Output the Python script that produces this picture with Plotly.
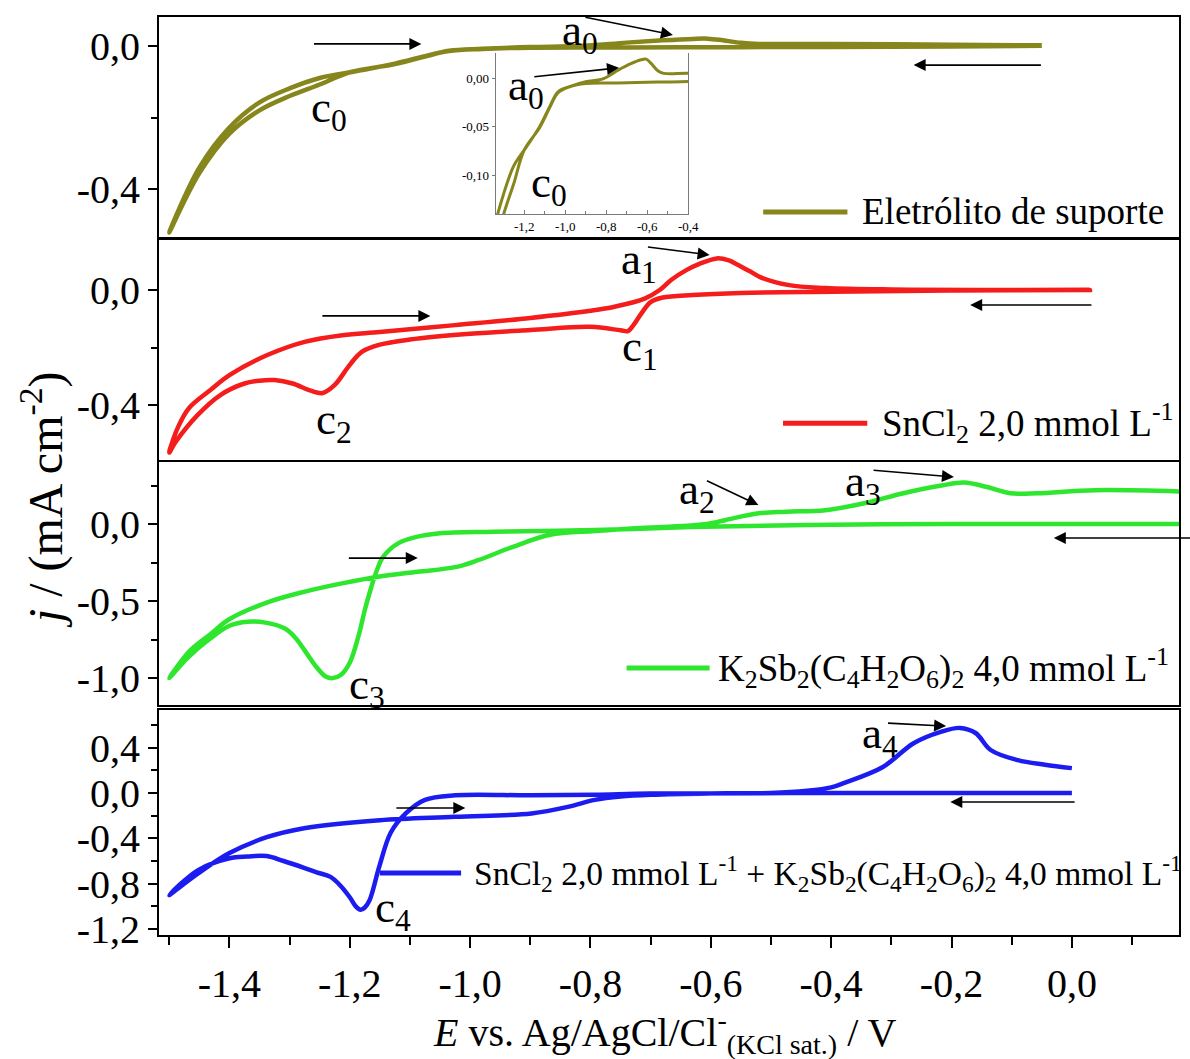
import plotly.graph_objects as go

# ---------------- data: cyclic voltammograms (E in V, j in mA cm-2) ----------------
# supporting electrolyte: cathodic sweep (right -> left) then anodic sweep (left -> right)
E_sup_cat = [-0.05, -0.2, -0.4, -0.55, -0.74, -0.9, -0.98, -1.035, -1.075, -1.125, -1.2,
             -1.25, -1.3, -1.35, -1.4, -1.45, -1.5]
j_sup_cat = [0.0, -0.002, -0.0035, -0.004, -0.005, -0.0055, -0.009, -0.015, -0.03, -0.051, -0.074,
             -0.108, -0.14, -0.18, -0.245, -0.355, -0.52]
E_sup_an = [-1.5, -1.45, -1.4, -1.35, -1.3, -1.25, -1.19, -1.125, -1.075, -1.035, -0.98, -0.9,
            -0.82, -0.74, -0.68, -0.63, -0.605, -0.58, -0.55, -0.52, -0.4, -0.2, -0.05]
j_sup_an = [-0.52, -0.34, -0.228, -0.158, -0.119, -0.09, -0.071, -0.05, -0.029, -0.014, -0.0087, -0.0035,
            -0.001, 0.0086, 0.015, 0.019, 0.0197, 0.015, 0.008, 0.005, 0.005, 0.003, 0.001]

# SnCl2 2,0 mmol L-1
E_sn_cat = [0.03, -0.2, -0.4, -0.55, -0.63, -0.68, -0.70, -0.715, -0.728, -0.738, -0.75, -0.8, -0.9,
            -1.0, -1.1, -1.15, -1.18, -1.2, -1.225, -1.245, -1.265, -1.295, -1.325, -1.35, -1.375,
            -1.415, -1.453, -1.49, -1.5]
j_sn_cat = [0.0, -0.002, -0.006, -0.01, -0.017, -0.026, -0.042, -0.08, -0.12, -0.143, -0.14, -0.128, -0.139,
            -0.152, -0.172, -0.19, -0.215, -0.26, -0.33, -0.358, -0.35, -0.325, -0.313, -0.315, -0.325,
            -0.365, -0.435, -0.53, -0.565]
E_sn_an = [-1.5, -1.485, -1.467, -1.43, -1.40, -1.337, -1.275, -1.212, -1.15, -1.025, -0.9, -0.8, -0.76,
           -0.71, -0.685, -0.666, -0.64, -0.62, -0.59, -0.57, -0.557, -0.535, -0.518, -0.47, -0.41, -0.3, 0.03]
j_sn_an = [-0.565, -0.475, -0.41, -0.345, -0.296, -0.226, -0.18, -0.157, -0.146, -0.122, -0.097, -0.072,
           -0.058, -0.03, 0.0, 0.035, 0.07, 0.09, 0.11, 0.103, 0.09, 0.065, 0.045, 0.017, 0.007, 0.002, 0.0]

# K2Sb2(C4H2O6)2 4,0 mmol L-1
E_sb_cat = [0.19, 0.0, -0.2, -0.44, -0.633, -0.793, -0.961, -1.05, -1.087, -1.119, -1.144, -1.155, -1.165,
            -1.175, -1.185, -1.2, -1.215, -1.228, -1.24, -1.255, -1.275, -1.29, -1.307, -1.34, -1.37,
            -1.40, -1.434, -1.47, -1.5]
j_sb_cat = [0.0, 0.0, 0.0, -0.006, -0.02, -0.039, -0.05, -0.06, -0.082, -0.124, -0.21, -0.3, -0.42,
            -0.558, -0.72, -0.9, -0.98, -1.0, -0.99, -0.93, -0.82, -0.74, -0.68, -0.64, -0.634,
            -0.66, -0.75, -0.87, -1.0]
E_sb_an = [-1.5, -1.465, -1.43, -1.401, -1.338, -1.276, -1.213, -1.15, -1.087, -1.025, -0.987, -0.93,
           -0.867, -0.793, -0.7, -0.633, -0.6, -0.56, -0.52, -0.474, -0.41, -0.345, -0.28, -0.217,
           -0.179, -0.141, -0.102, -0.057, 0.038, 0.19]
j_sb_an = [-1.0, -0.82, -0.71, -0.62, -0.51, -0.44, -0.385, -0.34, -0.31, -0.28, -0.235, -0.15,
           -0.07, -0.045, -0.022, -0.01, 0.005, 0.04, 0.07, 0.08, 0.09, 0.135, 0.2, 0.25,
           0.27, 0.24, 0.2, 0.2, 0.22, 0.21]

# SnCl2 + K2Sb2(C4H2O6)2
E_mix_cat = [0.0, -0.4, -0.7, -0.793, -0.9, -1.025, -1.075, -1.107, -1.132, -1.151, -1.167, -1.175,
             -1.182, -1.19, -1.2, -1.215, -1.232, -1.255, -1.276, -1.31, -1.338, -1.37, -1.40, -1.452, -1.5]
j_mix_cat = [0.0, 0.0, -0.005, -0.015, -0.02, -0.02, -0.06, -0.18, -0.35, -0.65, -0.945, -1.01,
             -1.03, -1.0, -0.92, -0.82, -0.74, -0.7, -0.66, -0.6, -0.556, -0.56, -0.575, -0.68, -0.9]
E_mix_an = [-1.5, -1.452, -1.40, -1.338, -1.276, -1.15, -1.025, -0.898, -0.836, -0.793, -0.75, -0.7,
            -0.6, -0.5, -0.44, -0.4, -0.378, -0.314, -0.263, -0.218, -0.186, -0.16, -0.135, -0.09,
            -0.045, 0.0]
j_mix_an = [-0.9, -0.71, -0.53, -0.39, -0.31, -0.24, -0.21, -0.18, -0.12, -0.06, -0.03, -0.015,
            -0.003, 0.0, 0.02, 0.05, 0.09, 0.23, 0.44, 0.54, 0.575, 0.53, 0.38, 0.29, 0.25, 0.22]

# ---------------- tick labels ----------------
x_tickvals = [-1.4, -1.2, -1.0, -0.8, -0.6, -0.4, -0.2, 0.0]
x_ticktext = ["-1,4", "-1,2", "-1,0", "-0,8", "-0,6", "-0,4", "-0,2", "0,0"]
x_minorvals = [-1.5, -1.3, -1.1, -0.9, -0.7, -0.5, -0.3, -0.1, 0.1]

y1_tickvals, y1_ticktext, y1_minor = [0.0, -0.4], ["0,0", "-0,4"], [-0.2]
y2_tickvals, y2_ticktext, y2_minor = [0.0, -0.4], ["0,0", "-0,4"], [-0.2]
y3_tickvals, y3_ticktext, y3_minor = [0.0, -0.5, -1.0], ["0,0", "-0,5", "-1,0"], [0.25, -0.25, -0.75]
y4_tickvals = [0.4, 0.0, -0.4, -0.8, -1.2]
y4_ticktext = ["0,4", "0,0", "-0,4", "-0,8", "-1,2"]
y4_minor = [0.6, 0.2, -0.2, -0.6, -1.0]

inset_xvals = [-1.2, -1.0, -0.8, -0.6, -0.4]
inset_xtext = ["-1,2", "-1,0", "-0,8", "-0,6", "-0,4"]
inset_xminor = [-1.3, -1.1, -0.9, -0.7, -0.5]
inset_yvals = [0.0, -0.05, -0.10]
inset_ytext = ["0,00", "-0,05", "-0,10"]

OLIVE = "#86861c"
RED = "#f51c1c"
GREEN = "#2ee62e"
BLUE = "#1c1cf0"
FONT = "Liberation Serif"

series = [
    (E_sup_cat, j_sup_cat, E_sup_an, j_sup_an, OLIVE, "x", "y"),
    (E_sn_cat, j_sn_cat, E_sn_an, j_sn_an, RED, "x2", "y2"),
    (E_sb_cat, j_sb_cat, E_sb_an, j_sb_an, GREEN, "x3", "y3"),
    (E_mix_cat, j_mix_cat, E_mix_an, j_mix_an, BLUE, "x4", "y4"),
]

fig = go.Figure()
for Ec, jc, Ea, ja, col, xa, ya in series:
    fig.add_trace(go.Scatter(x=Ec + Ea[1:], y=jc + ja[1:], mode="lines",
                             line=dict(color=col, width=4.5, shape="spline", smoothing=1.0),
                             xaxis=xa, yaxis=ya, showlegend=False, hoverinfo="skip"))

# inset: zoom of the supporting electrolyte voltammogram
fig.add_trace(go.Scatter(x=E_sup_cat + E_sup_an[1:], y=j_sup_cat + j_sup_an[1:], mode="lines",
                         line=dict(color=OLIVE, width=3, shape="spline", smoothing=1.0),
                         xaxis="x5", yaxis="y5", showlegend=False, hoverinfo="skip"))

XR = [-1.517, 0.178]
frame = dict(showline=True, mirror=True, linecolor="black", linewidth=2, zeroline=False,
             showgrid=False)
tickfont = dict(family=FONT, size=40, color="black")

# panel domains (paper fractions)
doms = [[0.7603, 1.0], [0.5174, 0.7571], [0.2505, 0.5153], [0.0, 0.2451]]
yranges = [[-0.533, 0.080], [-0.591, 0.174], [-1.175, 0.403], [-1.253, 0.733]]
yticks = [(y1_tickvals, y1_ticktext, y1_minor), (y2_tickvals, y2_ticktext, y2_minor),
          (y3_tickvals, y3_ticktext, y3_minor), (y4_tickvals, y4_ticktext, y4_minor)]

layout = dict(width=1190, height=1059, margin=dict(l=159, r=0, t=17, b=124),
              plot_bgcolor="white", paper_bgcolor="white",
              font=dict(family=FONT, color="black"))

for i in range(4):
    xn = "xaxis" if i == 0 else f"xaxis{i + 1}"
    yn = "yaxis" if i == 0 else f"yaxis{i + 1}"
    ysuf = "y" if i == 0 else f"y{i + 1}"
    last = (i == 3)
    xa = dict(frame, range=XR, domain=[0, 1], anchor=ysuf)
    if last:
        xa.update(tickmode="array", tickvals=x_tickvals, ticktext=x_ticktext,
                  ticks="outside", ticklen=11, tickwidth=2, tickcolor="black",
                  tickfont=tickfont, ticklabelstandoff=1,
                  minor=dict(tickmode="array", tickvals=x_minorvals, ticks="outside",
                             ticklen=8, tickwidth=2, tickcolor="black"))
    else:
        xa.update(showticklabels=False, ticks="", matches="x4")
    tv, tt, mn = yticks[i]
    ya = dict(frame, range=yranges[i], domain=doms[i], anchor="x" if i == 0 else f"x{i + 1}",
              tickmode="array", tickvals=tv, ticktext=tt, ticks="outside", ticklen=9,
              tickwidth=2, tickcolor="black", tickfont=tickfont,
              minor=dict(tickmode="array", tickvals=mn, ticks="outside", ticklen=6,
                         tickwidth=2, tickcolor="black"))
    layout[xn] = xa
    layout[yn] = ya

inset_font = dict(family=FONT, size=13, color="black")
layout["xaxis5"] = dict(domain=[0.3301, 0.5189], anchor="y5", range=[-1.339, -0.4],
                        showline=True, linecolor="#7a7a7a", linewidth=1, mirror=False,
                        showgrid=False, zeroline=False, tickmode="array",
                        tickvals=inset_xvals, ticktext=inset_xtext, ticks="inside",
                        ticklen=4, tickcolor="#7a7a7a", tickfont=inset_font,
                        minor=dict(tickmode="array", tickvals=inset_xminor, ticks="inside",
                                   ticklen=3, tickcolor="#7a7a7a"))
layout["yaxis5"] = dict(domain=[0.7854, 0.9608], anchor="x5", range=[-0.140, 0.026],
                        showline=True, linecolor="#7a7a7a", linewidth=1, mirror=True,
                        showgrid=False, zeroline=False, tickmode="array",
                        tickvals=inset_yvals, ticktext=inset_ytext, ticks="outside",
                        ticklen=3, tickcolor="#7a7a7a", tickfont=inset_font)

fig.update_layout(**layout)

# ---------------- scan-direction arrows ----------------
arrows = [
    # (xref, yref, head_x, head_y, tail_x, tail_y)
    ("x", "y", -1.081, 0.005, -1.262, 0.005),
    ("x", "y", -0.263, -0.054, -0.049, -0.054),
    ("x", "y", -0.663, 0.030, -0.811, 0.080),
    ("x5", "y5", -0.738, 0.0107, -1.158, 0.0013),
    ("x2", "y2", -1.066, -0.09, -1.248, -0.09),
    ("x2", "y2", -0.169, -0.052, 0.035, -0.052),
    ("x2", "y2", -0.602, 0.122, -0.707, 0.15),
    ("x3", "y3", -1.087, -0.221, -1.204, -0.221),
    ("x3", "y3", -0.030, -0.091, 0.2, -0.091),
    ("x3", "y3", -0.521, 0.123, -0.609, 0.286),
    ("x3", "y3", -0.196, 0.305, -0.332, 0.35),
    ("x4", "y4", -1.008, -0.132, -1.125, -0.132),
    ("x4", "y4", -0.202, -0.079, 0.007, -0.079),
    ("x4", "y4", -0.209, 0.591, -0.308, 0.618),
]
for xr, yr, hx, hy, tx, ty in arrows:
    fig.add_annotation(x=hx, y=hy, ax=tx, ay=ty, xref=xr, yref=yr, axref=xr, ayref=yr,
                       text="", showarrow=True, arrowhead=2, arrowsize=1.5, arrowwidth=1.6,
                       arrowcolor="black", standoff=0, startstandoff=0)

# ---------------- peak labels ----------------
peak_labels = [
    ("x", "y", -0.817, 0.035, "a<sub>0</sub>"),
    ("x", "y", -1.235, -0.179, "c<sub>0</sub>"),
    ("x5", "y5", -1.191, -0.010, "a<sub>0</sub>"),
    ("x5", "y5", -1.081, -0.110, "c<sub>0</sub>"),
    ("x2", "y2", -0.719, 0.097, "a<sub>1</sub>"),
    ("x2", "y2", -0.717, -0.205, "c<sub>1</sub>"),
    ("x2", "y2", -1.227, -0.459, "c<sub>2</sub>"),
    ("x3", "y3", -0.623, 0.208, "a<sub>2</sub>"),
    ("x3", "y3", -0.347, 0.26, "a<sub>3</sub>"),
    ("x3", "y3", -1.171, -1.058, "c<sub>3</sub>"),
    ("x4", "y4", -0.319, 0.503, "a<sub>4</sub>"),
    ("x4", "y4", -1.128, -1.03, "c<sub>4</sub>"),
]
for xr, yr, x, y, txt in peak_labels:
    fig.add_annotation(x=x, y=y, xref=xr, yref=yr, text=txt, showarrow=False,
                       xanchor="center", yanchor="middle",
                       font=dict(family=FONT, size=45, color="black"))

# ---------------- legend entries ----------------
legend_entries = [
    ("x", "y", -0.513, -0.373, -0.463, -0.352, OLIVE, 37, "Eletrólito de suporte"),
    ("x2", "y2", -0.48, -0.34, -0.463, -0.319, RED, 37, "SnCl<sub>2</sub> 2,0 mmol L<sup>-1</sup>"),
    ("x3", "y3", -0.74, -0.602, -0.935, -0.592, GREEN, 37,
     "K<sub>2</sub>Sb<sub>2</sub>(C<sub>4</sub>H<sub>2</sub>O<sub>6</sub>)<sub>2</sub> 4,0 mmol L<sup>-1</sup>"),
    ("x4", "y4", -1.15, -1.015, -0.706, -0.997, BLUE, 33.5,
     "SnCl<sub>2</sub> 2,0 mmol L<sup>-1</sup> + K<sub>2</sub>Sb<sub>2</sub>(C<sub>4</sub>H<sub>2</sub>O<sub>6</sub>)<sub>2</sub> 4,0 mmol L<sup>-1</sup>"),
]
for xr, yr, x0, x1, yl, xt, col, fs, txt in legend_entries:
    fig.add_shape(type="line", xref=xr, yref=yr, x0=x0, x1=x1, y0=yl, y1=yl,
                  line=dict(color=col, width=5))
    fig.add_annotation(x=xt, y=yl, xref=xr, yref=yr, text=txt, showarrow=False,
                       xanchor="left", yanchor="middle",
                       font=dict(family=FONT, size=fs, color="black"))

# ---------------- axis titles ----------------
fig.add_annotation(x=-0.1135, y=0.4739, xref="paper", yref="paper", textangle=-90,
                   text="<i>j</i> / (mA cm<sup>-2</sup>)", showarrow=False,
                   xanchor="center", yanchor="middle",
                   font=dict(family=FONT, size=48, color="black"))
fig.add_annotation(x=0.4956, y=-0.1055, xref="paper", yref="paper",
                   text="<i>E</i> vs. Ag/AgCl/Cl<sup>-</sup><sub>(KCl sat.)</sub> / V",
                   showarrow=False, xanchor="center", yanchor="middle",
                   font=dict(family=FONT, size=40, color="black"))

fig.write_html("out.html")
